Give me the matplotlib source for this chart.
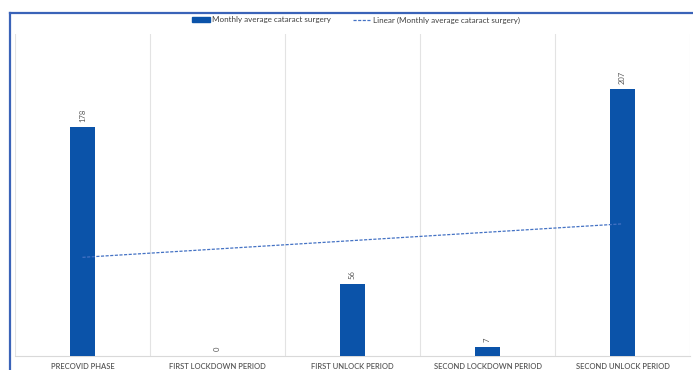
import matplotlib
matplotlib.use("Agg")
import matplotlib.pyplot as plt
from matplotlib.lines import Line2D
from matplotlib.patches import Patch
import numpy as np

categories = ["PRECOVID PHASE", "FIRST LOCKDOWN PERIOD", "FIRST UNLOCK PERIOD",
              "SECOND LOCKDOWN PERIOD", "SECOND UNLOCK PERIOD"]
surgeries = [178, 0, 56, 7, 207]

bar_color = "#0B53A9"
trend_color = "#4472C4"
text_color = "#595959"

plt.rcParams["font.family"] = ["Lato", "DejaVu Sans"]

fig = plt.figure(figsize=(6.93, 3.70), dpi=100)
W, H = 693, 370
ax = fig.add_axes([15 / W, (H - 356) / H, 675 / W, (356 - 34) / H])

x = np.arange(len(categories))
ax.bar(x, surgeries, width=0.19, color=bar_color, zorder=3)

# Linear trend fitted to the monthly averages
slope, intercept = np.polyfit(x + 1, surgeries, 1)
ax.plot(x, slope * (x + 1) + intercept, linestyle=(0, (2.5, 1.2)),
        color=trend_color, linewidth=0.9, zorder=4)

for xi, v in zip(x, surgeries):
    ax.text(xi, v + 4, str(v), rotation=90, ha="center", va="bottom",
            fontsize=5.5, color=text_color)

ax.set_xlim(-0.5, len(categories) - 0.5)
ax.set_ylim(0, 250)
ax.set_yticks([])
ax.set_xticks(x)
ax.set_xticklabels(categories, fontsize=5.5, color=text_color, fontweight="semibold")
ax.tick_params(axis="x", length=0, pad=5)
for s in ["top", "right", "left"]:
    ax.spines[s].set_visible(False)
ax.spines["bottom"].set_color("#D9D9D9")
ax.spines["bottom"].set_linewidth(0.8)
for b in np.arange(-0.5, len(categories) + 0.5, 1.0):
    ax.axvline(b, color="#E3E3E3", linewidth=0.8, zorder=1)

handles = [Patch(facecolor=bar_color, edgecolor=bar_color),
           Line2D([0], [0], color=trend_color, linestyle=(0, (2.5, 1.2)), linewidth=0.9)]
labels = ["Monthly average cataract surgery", "Linear (Monthly average cataract surgery)"]
fig.legend(handles, labels, loc="center", bbox_to_anchor=(356 / W, (H - 20) / H),
           ncol=2, frameon=False, fontsize=5.8, labelcolor="#404040",
           handlelength=2.2, handleheight=0.6, columnspacing=2.8, handletextpad=0.25)

# Outer chart frame
fig.add_artist(Line2D([10 / W, 10 / W], [0, (H - 13) / H], color="#3A63B8", linewidth=1.6,
                      transform=fig.transFigure))
fig.add_artist(Line2D([10 / W, 1], [(H - 13) / H, (H - 13) / H], color="#3A63B8", linewidth=1.6,
                      transform=fig.transFigure))

fig.savefig("out.png", dpi=100)
